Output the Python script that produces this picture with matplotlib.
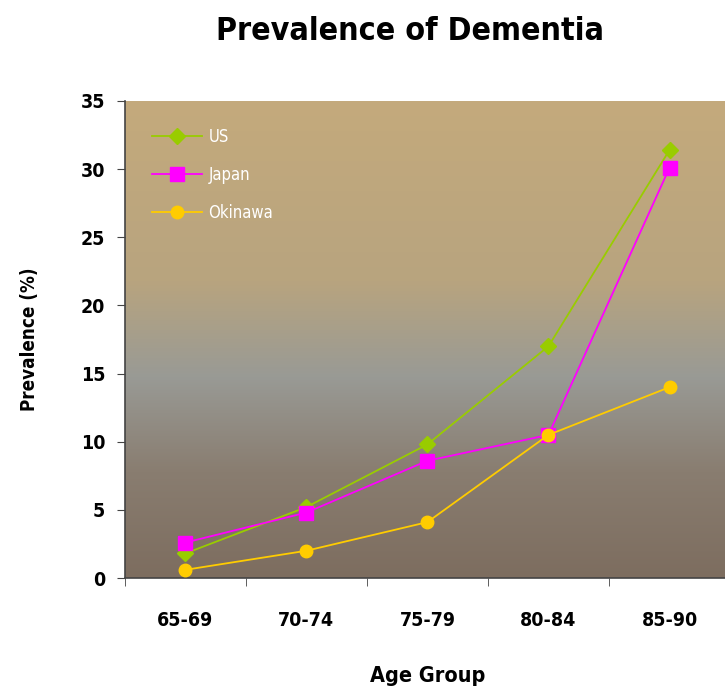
import numpy as np
import matplotlib
matplotlib.use("Agg")
import matplotlib.pyplot as plt
from matplotlib.colors import LinearSegmentedColormap

# data
age_groups = ["65-69", "70-74", "75-79", "80-84", "85-90"]
us = [1.8, 5.2, 9.8, 17.0, 31.4]
japan = [2.6, 4.8, 8.6, 10.5, 30.1]
okinawa = [0.6, 2.0, 4.1, 10.5, 14.0]
yticks = [0, 5, 10, 15, 20, 25, 30, 35]

narrow = dict(family="DejaVu Sans", stretch="condensed", fontweight="bold")

fig = plt.figure(figsize=(7.25, 6.91), dpi=100)
ax = fig.add_axes([0.172, 0.1635, 0.835, 0.6905])

# background gradient: brown at the bottom, grey around 15, tan at the top
cmap = LinearSegmentedColormap.from_list(
    "bg", [(0.0, "#7d6d5f"), (0.22, "#897d70"), (0.42, "#999a95"),
           (0.52, "#a89f8a"), (0.62, "#b8a47f"), (1.0, "#c4aa7c")])
grad = np.linspace(0, 1, 256).reshape(-1, 1)
ax.imshow(grad, extent=[-0.5, 4.5, 0, 35], origin="lower", aspect="auto",
          cmap=cmap, zorder=0)

x = np.arange(len(age_groups))
ax.plot(x, us, color="#99cc00", lw=1.3, marker="D", ms=8, label="US", zorder=3)
ax.plot(x, japan, color="#ff00ff", lw=1.3, marker="s", ms=10, label="Japan", zorder=4)
ax.plot(x, okinawa, color="#ffcc00", lw=1.3, marker="o", ms=9, label="Okinawa", zorder=5)

ax.set_xlim(-0.5, 4.5)
ax.set_ylim(0, 35)
ax.set_yticks(yticks)
ax.set_xticks(x)
ax.set_xticklabels(age_groups)
ax.set_xticks(np.arange(-0.5, 5, 1), minor=True)
ax.tick_params(axis="x", which="major", length=0, pad=24)
ax.tick_params(axis="x", which="minor", length=6, color="#444444")
ax.tick_params(axis="y", length=6, color="#444444", pad=8)
for lab in ax.get_xticklabels() + ax.get_yticklabels():
    lab.set_family("DejaVu Sans")
    lab.set_stretch("condensed")
    lab.set_fontweight("bold")
    lab.set_fontsize(14)

for s in ["top", "right"]:
    ax.spines[s].set_visible(False)
for s in ["left", "bottom"]:
    ax.spines[s].set_color("#444444")
    ax.spines[s].set_linewidth(1.2)

ax.set_xlabel("Age Group", fontsize=15.5, labelpad=26, **narrow)
ax.set_ylabel("Prevalence (%)", fontsize=13.5, labelpad=30, **narrow)
fig.text(0.565, 0.955, "Prevalence of Dementia", fontsize=23,
         ha="center", va="center", **narrow)

leg = ax.legend(loc="upper left", bbox_to_anchor=(0.02, 0.975), frameon=False,
                handlelength=3.0, handletextpad=0.4, labelspacing=1.2,
                prop=dict(family="DejaVu Sans", stretch="condensed", size=12))
for t in leg.get_texts():
    t.set_color("white")

fig.savefig("out.png", dpi=100)
